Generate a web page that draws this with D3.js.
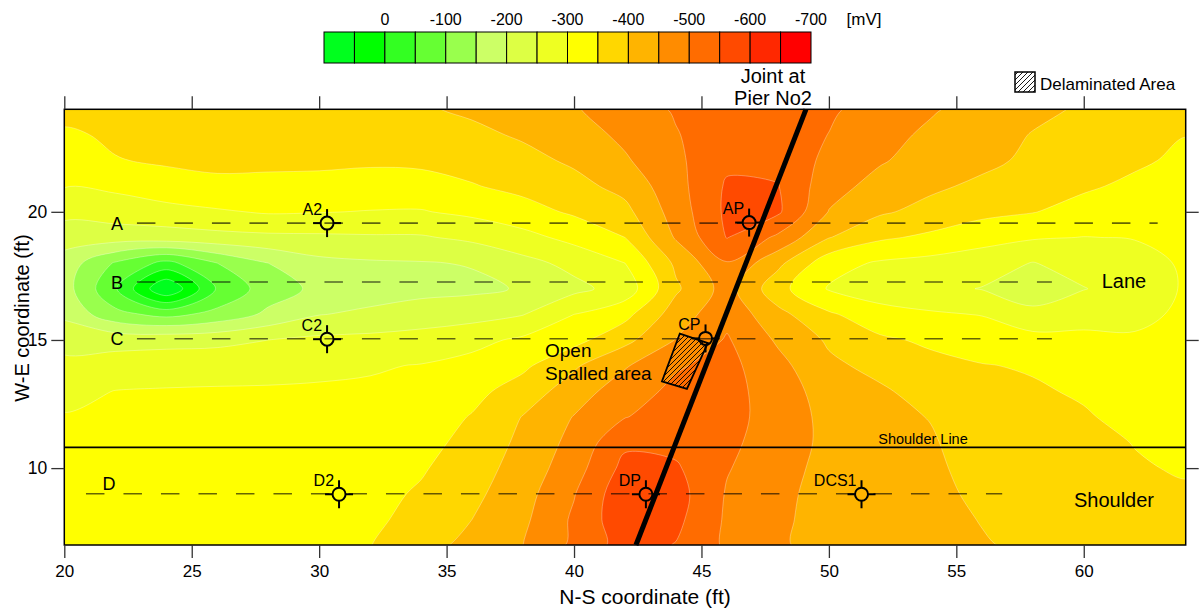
<!DOCTYPE html>
<html><head><meta charset="utf-8">
<script src="https://cdn.jsdelivr.net/npm/d3@7"></script>
<style>
body{margin:0;background:#fff;}
svg text{font-family:"Liberation Sans",Arial,Helvetica,sans-serif;fill:#000;}
</style></head><body>
<svg id="chart" width="1199" height="613"></svg>
<script>
// ---------------- DATA ----------------
// N-S coordinate of grid columns (ft)
const nsCoords = [20,22,24,26,28,30,32,34,36,38,40,42,44,46,48,50,52,54,56,58,60,62,64];
// W-E coordinate of grid rows (ft), top to bottom
const weCoords = [24,23,22,21,20,19,18,17,16,15,14,13,12,11,10,9,8,7];
// half-cell potential readings (mV), one row per W-E coordinate
const potential = [
 [-365,-367,-370,-374,-378,-383,-388,-395,-408,-428,-446,-475,-505,-525,-525,-508,-478,-455,-432,-410,-395,-383,-372],
 [-343,-357,-363,-366,-368,-370,-372,-376,-389,-406,-427,-461,-497,-530,-528,-499,-466,-441,-418,-398,-383,-370,-351],
 [-322,-348,-355,-357,-358,-360,-357,-361,-368,-385,-408,-444,-490,-540,-535,-488,-455,-428,-412,-390,-370,-358,-340],
 [-302,-310,-333,-343,-340,-335,-331,-329,-347,-363,-384,-416,-482,-556,-552,-470,-432,-409,-390,-367,-357,-340,-329],
 [-266,-273,-281,-294,-305,-302,-298,-297,-311,-332,-357,-386,-472,-560,-558,-448,-407,-384,-364,-352,-332,-321,-318],
 [-220,-224,-228,-234,-239,-241,-244,-245,-261,-284,-315,-350,-455,-552,-490,-402,-358,-340,-317,-305,-299,-302,-310],
 [-180, -95, -35,-100,-150,-186,-194,-197,-203,-235,-264,-300,-410,-497,-413,-319,-294,-284,-275,-248,-272,-283,-306],
 [-172, -55, 100, -55,-125,-162,-176,-186,-190,-204,-237,-270,-392,-470,-367,-296,-272,-263,-248,-225,-248,-273,-305],
 [-190,-115, -85,-115,-160,-198,-210,-222,-231,-248,-300,-335,-424,-485,-415,-357,-320,-306,-298,-262,-286,-290,-307],
 [-233,-233,-233,-236,-250,-261,-264,-271,-286,-309,-334,-386,-452,-505,-443,-393,-358,-342,-329,-319,-309,-305,-312],
 [-262,-271,-280,-283,-287,-291,-296,-302,-315,-340,-393,-445,-495,-515,-465,-410,-386,-363,-352,-346,-327,-316,-318],
 [-286,-301,-303,-304,-304,-305,-306,-313,-335,-373,-425,-478,-511,-518,-475,-428,-407,-381,-360,-355,-345,-327,-325],
 [-303,-307,-309,-310,-311,-311,-313,-324,-353,-402,-452,-498,-524,-516,-480,-435,-414,-398,-368,-360,-354,-338,-332],
 [-309,-313,-315,-316,-317,-318,-320,-334,-365,-412,-465,-540,-536,-510,-478,-437,-418,-405,-375,-366,-359,-349,-340],
 [-316,-319,-321,-322,-324,-325,-328,-345,-377,-421,-478,-565,-556,-503,-472,-432,-420,-409,-383,-371,-364,-353,-347],
 [-322,-325,-328,-329,-330,-331,-335,-356,-388,-431,-497,-585,-570,-496,-465,-428,-420,-413,-390,-377,-369,-356,-354],
 [-329,-331,-334,-335,-337,-338,-342,-363,-400,-440,-508,-585,-562,-493,-462,-425,-420,-416,-398,-383,-373,-360,-361],
 [-335,-337,-340,-341,-343,-345,-349,-375,-420,-450,-510,-572,-548,-492,-460,-422,-420,-419,-404,-390,-378,-364,-368]
];
// colour scale: band edges (mV) and band colours (from +100 down to -700)
const bandEdges = [100,50,0,-50,-100,-150,-200,-250,-300,-350,-400,-450,-500,-550,-600,-650,-700];
const bandColors = ["#00ff1e","#00ff00","#33ff22","#66ff33","#99ff4d","#ccff66","#ddff44","#eeff22",
                    "#ffff00","#ffd700","#ffb400","#ff8c00","#ff6c00","#ff4a00","#ff2800","#ff0000"];
const colorbarLabels = [0,-100,-200,-300,-400,-500,-600,-700];
const xTicks = [20,25,30,35,40,45,50,55,60];
const yTicks = [10,15,20];
// survey lines
const surveyNames = ["A","B","C","D"];
const surveyY     = [19.56,17.26,15.05,9.0];
const surveyStart = [22.85,22.85,22.85,20.85];
const surveyEnd   = [62.9,58.75,58.75,56.8];
// measurement points
const pointNames = ["A2","C2","D2","AP","CP","DP","DCS1"];
const pointX     = [30.31,30.31,30.78,46.87,45.16,42.82,51.28];
const pointY     = [19.56,15.03,8.98,19.58,15.06,8.98,8.98];
// joint at pier No2 (x,y end points) and spalled area outline
const jointX = [49.1,42.43], jointY = [24,7];
const spallX = [44.15,45.25,44.43,43.45], spallY = [15.25,14.88,13.09,13.38];
const shoulderY = 10.81;

// ---------------- LAYOUT ----------------
const svg = d3.select("#chart");
const L = 64.3, R = 1185.7, T = 109.3, B = 545;
const x = d3.scaleLinear([20,64],[L,R]);
const y = d3.scaleLinear([7,24],[B,T]);

const defs = svg.append("defs");
defs.append("clipPath").attr("id","plotclip").append("rect")
  .attr("x",L).attr("y",T).attr("width",R-L).attr("height",B-T);
const pat = defs.append("pattern").attr("id","hatch").attr("patternUnits","userSpaceOnUse")
  .attr("width",5).attr("height",5);
pat.append("path").attr("d","M-1,1 L1,-1 M0,5 L5,0 M4,6 L6,4")
  .attr("stroke","#000").attr("stroke-width",0.9);

// ---------------- CONTOURS ----------------
const n = nsCoords.length, m = weCoords.length;
const values = potential.flat();
const thresholds = bandEdges.slice(1).reverse(); // -700 ... 50
const color = v => bandColors[bandEdges.indexOf(v) - 1];
const gx = d3.scaleLinear([0.5, n-0.5],[nsCoords[0], nsCoords[n-1]]);
const gy = d3.scaleLinear([0.5, m-0.5],[weCoords[0], weCoords[m-1]]);
const contours = d3.contours().size([n,m]).thresholds(thresholds)(values);
const ringLine = d3.line().curve(d3.curveCatmullRomClosed.alpha(0.5));

const plot = svg.append("g").attr("clip-path","url(#plotclip)");
plot.append("rect").attr("x",L).attr("y",T).attr("width",R-L).attr("height",B-T).attr("fill",bandColors[9]);
contours.forEach(c => {
  if (!c.coordinates.length) return;
  let d = "";
  c.coordinates.forEach(poly => poly.forEach(ring => {
    const pts = ring.slice(0,-1).map(p => [x(gx(p[0])), y(gy(p[1]))]);
    d += ringLine(pts);
  }));
  plot.append("path").attr("d",d).attr("fill",color(c.value)).attr("fill-rule","evenodd")
    .attr("stroke","rgba(255,255,255,0.45)").attr("stroke-width",0.7);
});

// survey lines
surveyNames.forEach((s,i) => {
  plot.append("line").attr("x1",x(surveyStart[i])).attr("x2",x(surveyEnd[i]))
    .attr("y1",y(surveyY[i])).attr("y2",y(surveyY[i]))
    .attr("stroke","#000").attr("stroke-opacity",0.6).attr("stroke-width",1.6)
    .attr("stroke-dasharray","18.5,19");
});
svg.selectAll("text.line").data(surveyNames).join("text")
  .attr("x",(d,i)=> i===3 ? 109 : 117).attr("y",(d,i)=> i===3 ? y(surveyY[i])-4 : y(surveyY[i])+6.5)
  .attr("text-anchor","middle").attr("font-size",18).text(d=>d);

// shoulder line
svg.append("line").attr("x1",L).attr("x2",R).attr("y1",y(shoulderY)).attr("y2",y(shoulderY))
  .attr("stroke","#000").attr("stroke-width",1.8);
svg.append("text").attr("x",923).attr("y",y(shoulderY)-3).attr("text-anchor","middle")
  .attr("font-size",14.5).text("Shoulder Line");

// spalled area
plot.append("path").attr("d", d3.line()(spallX.map((v,i)=>[x(v), y(spallY[i])])) + "Z")
  .attr("fill","url(#hatch)").attr("stroke","#000").attr("stroke-width",1.8);

// joint line
svg.append("line").attr("x1",x(jointX[0])).attr("y1",y(jointY[0])).attr("x2",x(jointX[1])).attr("y2",y(jointY[1]))
  .attr("stroke","#000").attr("stroke-width",5);

// measurement points
pointNames.forEach((p,i) => {
  const g = svg.append("g").attr("transform",`translate(${x(pointX[i])},${y(pointY[i])})`);
  g.append("circle").attr("r",6.5).attr("fill","none").attr("stroke","#000").attr("stroke-width",2);
  [[-14,0,-6.5,0],[6.5,0,14,0],[0,-14,0,-6.5],[0,6.5,0,14]].forEach(s =>
    g.append("line").attr("x1",s[0]).attr("y1",s[1]).attr("x2",s[2]).attr("y2",s[3])
      .attr("stroke","#000").attr("stroke-width",2));
  g.append("text").attr("x",-5).attr("y",-8.5).attr("text-anchor","end").attr("font-size",16).text(p);
});

// ---------------- AXES ----------------
svg.append("rect").attr("x",L).attr("y",T).attr("width",R-L).attr("height",B-T)
  .attr("fill","none").attr("stroke","#000").attr("stroke-width",1.5);
const styleAxis = g => { g.select(".domain").remove(); g.selectAll("line").attr("stroke","#333").attr("stroke-width",1.3); };
svg.append("g").attr("transform",`translate(0,${B})`)
  .call(d3.axisBottom(x).tickValues(xTicks).tickSize(13).tickPadding(7).tickSizeOuter(0))
  .call(styleAxis).selectAll("text").attr("font-size",17).attr("font-family","Liberation Sans, Arial, sans-serif");
svg.append("g").attr("transform",`translate(0,${T})`)
  .call(d3.axisTop(x).tickValues(xTicks).tickSize(13).tickFormat("").tickSizeOuter(0)).call(styleAxis);
svg.append("g").attr("transform",`translate(${L},0)`)
  .call(d3.axisLeft(y).tickValues(yTicks).tickSize(13).tickPadding(4).tickSizeOuter(0))
  .call(styleAxis).selectAll("text").attr("font-size",17.5).attr("font-family","Liberation Sans, Arial, sans-serif");
svg.append("g").attr("transform",`translate(${R},0)`)
  .call(d3.axisRight(y).tickValues(yTicks).tickSize(13).tickFormat("").tickSizeOuter(0)).call(styleAxis);

svg.append("text").attr("x",645).attr("y",604).attr("text-anchor","middle").attr("font-size",21)
  .text("N-S coordinate (ft)");
svg.append("text").attr("transform",`translate(29,318) rotate(-90)`).attr("text-anchor","middle")
  .attr("font-size",20).text("W-E coordinate (ft)");

// ---------------- COLOR BAR ----------------
const cb = d3.scaleLinear([100,-700],[324,811]);
bandColors.forEach((c,i) => {
  svg.append("rect").attr("x",cb(bandEdges[i])).attr("y",32).attr("width",cb(bandEdges[i+1])-cb(bandEdges[i]))
    .attr("height",31).attr("fill",c).attr("stroke","#000").attr("stroke-width",1);
});
colorbarLabels.forEach(v => svg.append("text").attr("x",cb(v)).attr("y",25).attr("text-anchor","middle")
  .attr("font-size",16).text(v));
svg.append("text").attr("x",864).attr("y",25).attr("text-anchor","middle").attr("font-size",17).text("[mV]");

// ---------------- ANNOTATIONS ----------------
svg.append("text").attr("x",773).attr("y",83).attr("text-anchor","middle").attr("font-size",20).text("Joint at");
svg.append("text").attr("x",773).attr("y",105).attr("text-anchor","middle").attr("font-size",20).text("Pier No2");
svg.append("text").attr("x",545).attr("y",357).attr("font-size",19).text("Open");
svg.append("text").attr("x",545).attr("y",380).attr("font-size",19).text("Spalled area");
svg.append("text").attr("x",1124).attr("y",288).attr("text-anchor","middle").attr("font-size",20).text("Lane");
svg.append("text").attr("x",1114).attr("y",507).attr("text-anchor","middle").attr("font-size",20).text("Shoulder");
svg.append("rect").attr("x",1015).attr("y",72).attr("width",20).attr("height",20)
  .attr("fill","url(#hatch)").attr("stroke","#000").attr("stroke-width",1.5);
svg.append("text").attr("x",1040).attr("y",90).attr("font-size",17).text("Delaminated Area");
</script>
</body></html>
